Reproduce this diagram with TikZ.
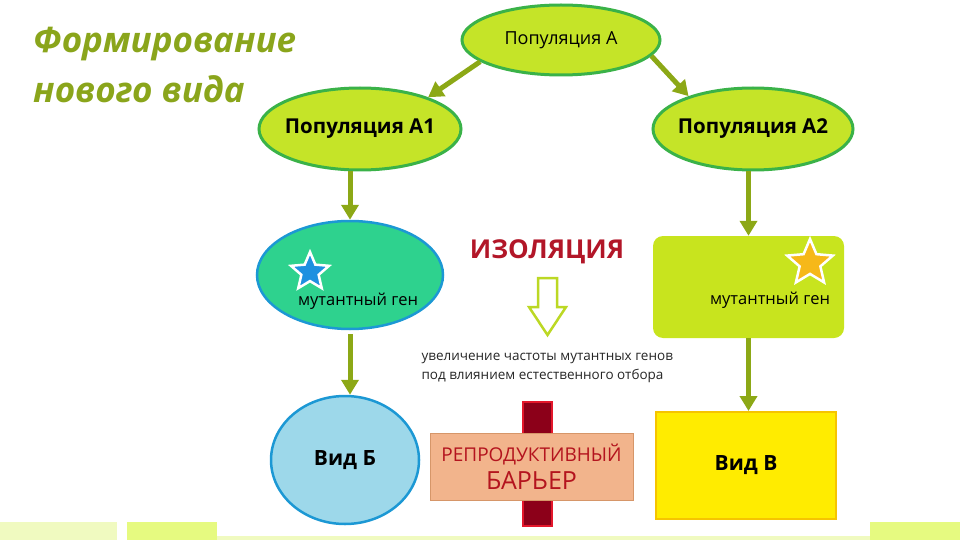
\documentclass[tikz,border=0pt]{standalone}
\usepackage{fontspec}
\setmainfont{Open Sans}
\usetikzlibrary{shapes.geometric}
\usetikzlibrary{arrows.meta}

\definecolor{titlegreen}{RGB}{138,165,27}
\definecolor{linkgreen}{RGB}{140,168,22}
\definecolor{popfill}{RGB}{197,228,40}
\definecolor{popborder}{RGB}{58,178,72}
\definecolor{mutfill}{RGB}{46,210,142}
\definecolor{blueborder}{RGB}{28,152,212}
\definecolor{vidbfill}{RGB}{157,216,234}
\definecolor{rectfill}{RGB}{200,228,30}
\definecolor{vidvfill}{RGB}{255,236,0}
\definecolor{vidvborder}{RGB}{246,196,0}
\definecolor{starblue}{RGB}{30,144,224}
\definecolor{starorange}{RGB}{246,184,25}
\definecolor{isored}{RGB}{178,22,40}
\definecolor{hollowgreen}{RGB}{188,216,36}
\definecolor{barred}{RGB}{140,0,25}
\definecolor{barborder}{RGB}{228,23,43}
\definecolor{barrierfill}{RGB}{242,180,140}
\definecolor{barrierborder}{RGB}{214,150,105}
\definecolor{barriertext}{RGB}{180,20,30}
\definecolor{stripA}{RGB}{240,250,192}
\definecolor{stripB}{RGB}{230,250,128}

\tikzset{
	popnode/.style={ellipse, draw=popborder, line width=3pt, fill=popfill, inner xsep=-30pt, inner ysep=0pt},
	link/.style={-{Triangle[width=17pt,length=15pt]}, line width=5pt, draw=linkgreen},
	genetext/.style={font=\fontsize{16.5}{18}\selectfont},
	starshape/.style={star, star points=5, star point ratio=2.2, draw=white, line width=2.5pt, inner sep=0pt},
}

\begin{document}
\begin{tikzpicture}[x=1pt,y=-1pt]

	\useasboundingbox (0,0) rectangle (960,540);

	%bottom strips
	\fill[stripA] (0,522) rectangle (117,540);
	\fill[stripB] (127,522) rectangle (217,540);
	\fill[stripA] (217,536) rectangle (870,540);
	\fill[stripB] (870,522) rectangle (960,540);

	%title
	\node[anchor=north west, inner sep=0pt, align=left, text=titlegreen, font=\fontsize{35}{50}\selectfont\bfseries\itshape] (title) at (33,27) {Формирование\\нового вида};

	%populations
	\node[popnode, minimum width=198pt, minimum height=70pt, font=\fontsize{18}{20}\selectfont] (popA) at (561,40) {Популяция А};
	\node[popnode, minimum width=202pt, minimum height=82pt, font=\fontsize{20.5}{22}\selectfont\bfseries] (popA1) at (360,129) {Популяция А1};
	\node[popnode, minimum width=200pt, minimum height=82pt, font=\fontsize{20.5}{22}\selectfont\bfseries] (popA2) at (753,129) {Популяция А2};

	%mutant gene
	\node[ellipse, draw=blueborder, line width=2.5pt, fill=mutfill, minimum width=186pt, minimum height=108pt, inner sep=0pt] (mutB) at (350,275) {};
	\node[genetext] (geneB) at (358,301) {мутантный ген};
	\node[starshape, fill=starblue, minimum size=40pt] (starB) at (310,272) {};

	\node[rectangle, rounded corners=10pt, fill=rectfill, minimum width=191pt, minimum height=102pt] (mutV) at (748.5,287) {};
	\node[genetext] (geneV) at (770,300) {мутантный ген};
	\node[starshape, fill=starorange, minimum size=48pt] (starV) at (810,263) {};

	%species
	\node[ellipse, draw=blueborder, line width=2.5pt, fill=vidbfill, minimum width=148pt, minimum height=128pt, inner sep=0pt, font=\fontsize{21}{23}\selectfont\bfseries] (vidB) at (345,460) {Вид Б};
	\node[rectangle, draw=vidvborder, line width=2pt, fill=vidvfill, minimum width=180pt, minimum height=107pt, font=\fontsize{21}{23}\selectfont\bfseries] (vidV) at (746,465.5) {Вид В};

	%arrows
	\draw[link] (popA.195) -- (popA1.25);
	\draw[link] (popA.-10) -- (popA2.153);
	\draw[link] (popA1.south -| mutB.north) -- (mutB.north);
	\draw[link] ([yshift=-4pt]mutB.south) -- (mutB.south |- vidB.north);
	\draw[link] (popA2.south -| mutV.north) -- (mutV.north);
	\draw[link] (mutV.south) -- (mutV.south |- vidV.north);

	%isolation
	\node[text=isored, font=\fontsize{26}{28}\selectfont\bfseries] (iso) at (547,252) {ИЗОЛЯЦИЯ};
	\draw[draw=hollowgreen, line width=2.5pt, fill=white] (538,278) -- (557,278) -- (557,307) -- (566,307) -- (547.5,335) -- (529,307) -- (538,307) -- cycle;
	\node[anchor=west, align=left, font=\fontsize{13.5}{19}\selectfont, text=black!85] (select) at (418,368) {увеличение частоты мутантных генов\\под влиянием естественного отбора};

	%barrier
	\node[rectangle, fill=barred, draw=barborder, line width=1.5pt, minimum width=29pt, minimum height=124pt] (bar) at (537.5,464) {};
	\node[rectangle, fill=barrierfill, draw=barrierborder, line width=1pt, minimum width=203pt, minimum height=67pt, align=center, text=barriertext] (barrier) at (531.5,466.5) {\fontsize{19}{22}\selectfont РЕПРОДУКТИВНЫЙ\\[6pt]\fontsize{25}{27}\selectfont БАРЬЕР};

\end{tikzpicture}
\end{document}
